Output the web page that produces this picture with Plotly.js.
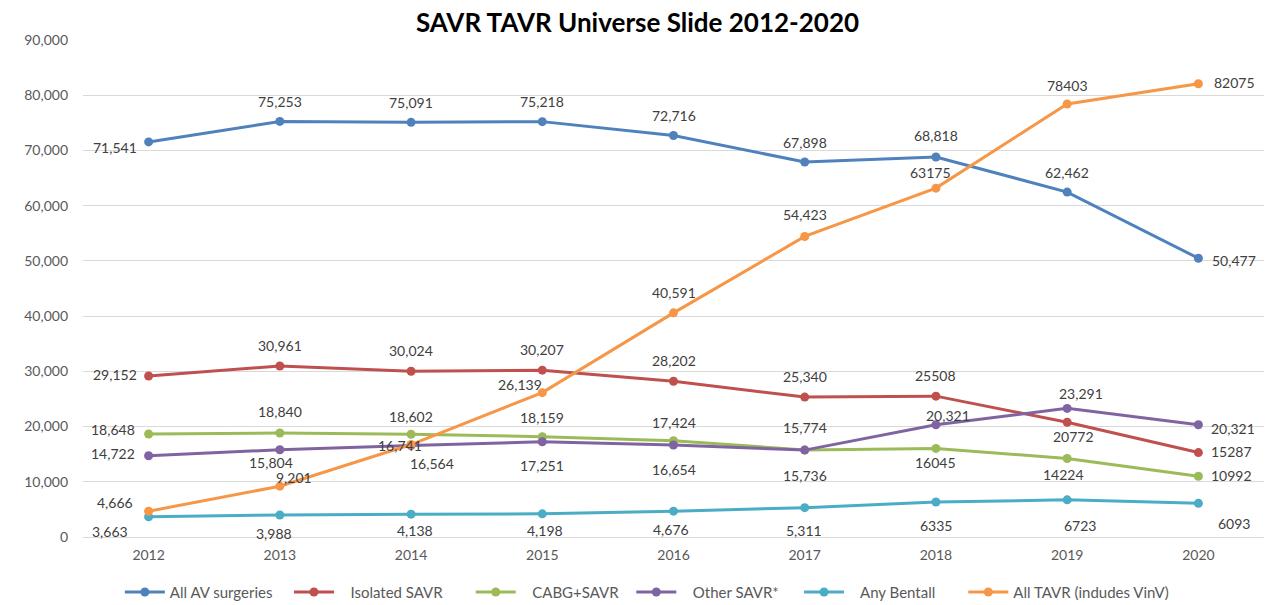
<!DOCTYPE html>
<html>
<head>
<meta charset="utf-8">
<script src="https://cdn.plot.ly/plotly-3.0.1.min.js"></script>
<style>html,body{margin:0;padding:0;background:#fff;}#chart{width:1275px;height:605px;}</style>
</head>
<body>
<div id="chart"></div>
<script>
// ---- data ----
const years = ["2012","2013","2014","2015","2016","2017","2018","2019","2020"];
const allAV      = [71541, 75253, 75091, 75218, 72716, 67898, 68818, 62462, 50477];
const isolSAVR   = [29152, 30961, 30024, 30207, 28202, 25340, 25508, 20772, 15287];
const cabgSAVR   = [18648, 18840, 18602, 18159, 17424, 15774, 16045, 14224, 10992];
const otherSAVR  = [14722, 15804, 16564, 17251, 16654, 15736, 20321, 23291, 20321];
const anyBentall = [3663, 3988, 4138, 4198, 4676, 5311, 6335, 6723, 6093];
const allTAVR    = [4666, 9201, 16741, 26139, 40591, 54423, 63175, 78403, 82075];
const seriesNames = ["All AV surgeries", "Isolated SAVR", "CABG+SAVR", "Other SAVR*", "Any Bentall", "All TAVR (indudes VinV)"];
const yTickVals = [0, 10000, 20000, 30000, 40000, 50000, 60000, 70000, 80000, 90000];
const yTickText = ["0", "10,000", "20,000", "30,000", "40,000", "50,000", "60,000", "70,000", "80,000", "90,000"];
// index from which labels are shown without thousands separator
const plainFrom = [9, 6, 6, 9, 6, 6];

// ---- styles / label offsets (px: [dx, dyUp]) ----
const colors = ["#4F81BD", "#C0504D", "#9BBB59", "#8064A2", "#4BACC6", "#F79646"];
const offsets = [
  [[-34,-6],[0,20],[0,20],[0,20],[0,20],[0,20],[0,21],[0,20],[36,-2]],
  [[-34,2],[0,21],[0,21],[0,21],[0,21],[0,21],[0,21],[6,-14],[33,1]],
  [[-36,5],[0,21],[0,18],[0,19],[0,18],[0,22],[0,-14],[-4,-16],[33,1]],
  [[-36,2],[-9,-13],[21,-18],[0,-24],[0,-24],[0,-25],[12,9],[14,15],[35,-4]],
  [[-39,-15],[-6,-19],[4,-16],[3,-17],[-3,-18],[-1,-23],[0,-23],[13,-26],[36,-20]],
  [[-34,9],[14,9],[-11,-1],[-22,8],[0,20],[0,22],[-5,16],[0,19],[36,1]]
];
// legend spacing: leading / trailing non-breaking spaces per entry
const legendLead  = [0, 3, 3, 3, 3, 0];
const legendTrail = [3, 6, 2, 4, 6, 0];

const allSeries = [allAV, isolSAVR, cabgSAVR, otherSAVR, anyBentall, allTAVR];
const FONT = "Lato, 'Open Sans', sans-serif";
const NB = "\u00A0";

function fmt(v, plain) {
  if (plain) return String(v);
  return String(v).replace(/\B(?=(\d{3})+(?!\d))/g, ",");
}

const traces = allSeries.map((vals, k) => ({
  type: "scatter",
  mode: "lines+markers",
  name: NB.repeat(legendLead[k]) + seriesNames[k] + NB.repeat(legendTrail[k]),
  x: years,
  y: vals,
  line: {color: colors[k], width: 3},
  marker: {color: colors[k], size: 9},
  hoverinfo: "x+y+name"
}));

const annotations = [];
allSeries.forEach((vals, k) => {
  vals.forEach((v, i) => {
    annotations.push({
      x: i, y: v, xref: "x", yref: "y",   // category index on the category axis
      text: fmt(v, i >= plainFrom[k]),
      showarrow: false,
      xanchor: "center", yanchor: "middle",
      xshift: offsets[k][i][0],
      yshift: offsets[k][i][1],
      font: {family: FONT, size: 14, color: "#404040"}
    });
  });
});

const layout = {
  width: 1275, height: 605,
  paper_bgcolor: "#ffffff", plot_bgcolor: "#ffffff",
  margin: {l: 83, r: 11, t: 40, b: 68},
  title: {
    text: "<b>SAVR TAVR Universe Slide 2012-2020</b>",
    font: {family: FONT, size: 26, color: "#000000"},
    x: 0.5, xref: "container", xanchor: "center",
    y: 0.962, yref: "container", yanchor: "middle"
  },
  xaxis: {
    type: "category",
    range: [-0.5, 8.5],
    showgrid: false, zeroline: false, showline: false,
    ticks: "", ticklabelstandoff: 8,
    tickfont: {family: FONT, size: 14, color: "#595959"}
  },
  yaxis: {
    range: [0, 90000],
    tickvals: yTickVals, ticktext: yTickText,
    showgrid: true, gridcolor: "#d9d9d9", gridwidth: 1,
    zeroline: true, zerolinecolor: "#d9d9d9", zerolinewidth: 1,
    showline: false, ticks: "", ticklabelstandoff: 14,
    tickfont: {family: FONT, size: 14, color: "#595959"}
  },
  showlegend: true,
  legend: {
    orientation: "h",
    xref: "container", yref: "container",
    x: 0.094, xanchor: "left",
    y: 0.021, yanchor: "middle",
    itemwidth: 40,
    font: {family: FONT, size: 15, color: "#595959"},
    bgcolor: "rgba(0,0,0,0)"
  },
  annotations: annotations
};

Plotly.newPlot("chart", traces, layout, {displayModeBar: false, staticPlot: true});
</script>
</body>
</html>
